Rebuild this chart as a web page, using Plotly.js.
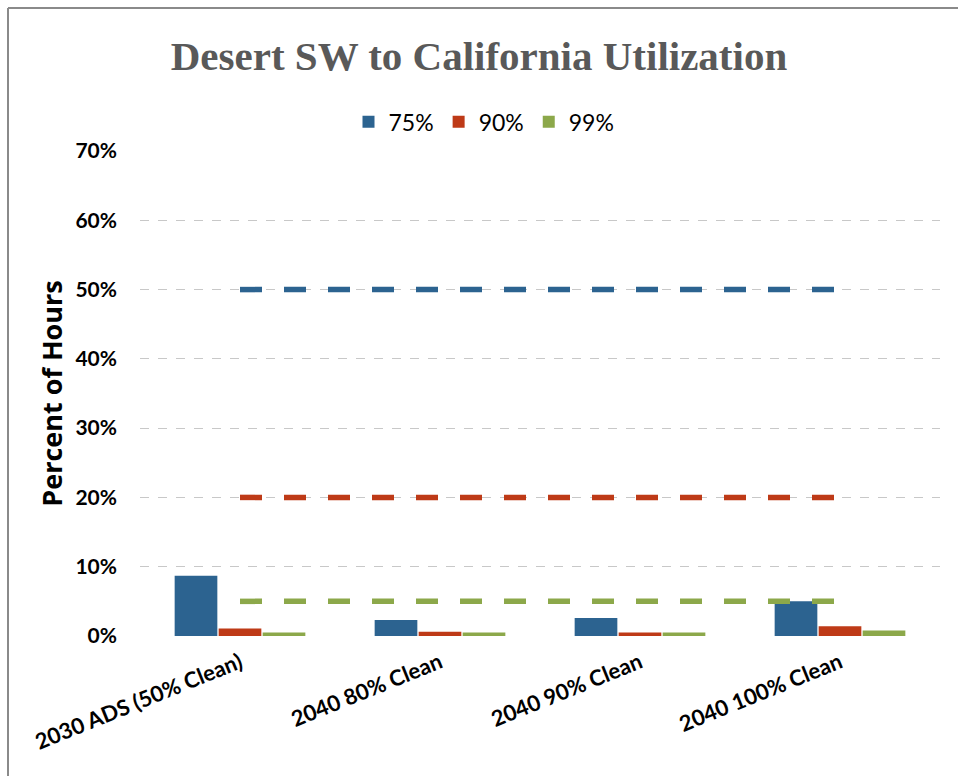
<!DOCTYPE html>
<html>
<head>
<meta charset="utf-8">
<script src="https://cdn.plot.ly/plotly-3.0.1.min.js"></script>
<style>html,body{margin:0;padding:0;background:#fff;}#chart{width:958px;height:776px;}</style>
</head>
<body>
<div id="chart"></div>
<script>
const categories = ["2030 ADS (50% Clean)", "2040 80% Clean", "2040 90% Clean", "2040 100% Clean"];
const seriesNames = ["75%", "90%", "99%"];
const p75 = [0.087, 0.023, 0.026, 0.050];
const p90 = [0.011, 0.006, 0.005, 0.014];
const p99 = [0.005, 0.005, 0.005, 0.008];
const thr75 = [0.50, 0.50, 0.50, 0.50];
const thr90 = [0.20, 0.20, 0.20, 0.20];
const thr99 = [0.05, 0.05, 0.05, 0.05];
const yTicks = [0, 0.1, 0.2, 0.3, 0.4, 0.5, 0.6, 0.7];

const colors = ["#2c6390", "#be3a17", "#8ca84a"];
const barVals = [p75, p90, p99];
const thrVals = [thr75, thr90, thr99];

const traces = [];
barVals.forEach((v, i) => {
  traces.push({
    type: "bar", name: seriesNames[i], x: categories, y: v,
    marker: {color: colors[i]}, showlegend: true
  });
});
thrVals.forEach((v, i) => {
  traces.push({
    type: "scatter", mode: "lines", x: categories, y: v, showlegend: false,
    line: {color: colors[i], width: 5.5, dash: "22px,22px"}, hoverinfo: "skip"
  });
});

const layout = {
  width: 958, height: 776,
  margin: {l: 140, r: 18, t: 151, b: 140},
  paper_bgcolor: "#ffffff", plot_bgcolor: "#ffffff",
  barmode: "group", bargap: 0.34, bargroupgap: 0.03,
  title: {
    text: "Desert SW to California Utilization",
    font: {family: "Liberation Serif, serif", size: 41, color: "#595959", weight: "bold"},
    x: 0.5, xanchor: "center", y: 0.928, yanchor: "middle"
  },
  legend: {
    orientation: "h", x: 0.43, xanchor: "center", y: 1.06, yanchor: "middle",
    font: {family: "Lato, sans-serif", size: 23, color: "#000"},
    itemwidth: 30, traceorder: "normal"
  },
  xaxis: {
    type: "category", tickangle: -22, showgrid: false, showline: false, zeroline: false,
    tickfont: {family: "Lato, sans-serif", size: 22, color: "#000", weight: "bold"},
    ticks: "", ticklabelstandoff: 9
  },
  yaxis: {
    range: [0, 0.7], tickvals: yTicks, tickformat: ".0%",
    showgrid: true, gridcolor: "#c8c8c8", griddash: "dash", gridwidth: 1,
    zeroline: false, showline: false, ticks: "", ticklabelstandoff: 22,
    tickfont: {family: "Lato, sans-serif", size: 21, color: "#000", weight: "bold"},
    title: {text: "Percent of Hours", standoff: 4,
      font: {family: "Open Sans, sans-serif", size: 27, color: "#000", weight: "bold"}}
  },
  shapes: [
    {type: "line", xref: "paper", yref: "paper", x0: -0.165, x1: -0.165, y0: 1.295, y1: -0.3,
     line: {color: "#8a8a8a", width: 2}},
    {type: "line", xref: "paper", yref: "paper", x0: -0.165, x1: 1.03, y0: 1.295, y1: 1.295,
     line: {color: "#8a8a8a", width: 2}}
  ]
};

Plotly.newPlot("chart", traces, layout, {displayModeBar: false, staticPlot: true});
</script>
</body>
</html>
